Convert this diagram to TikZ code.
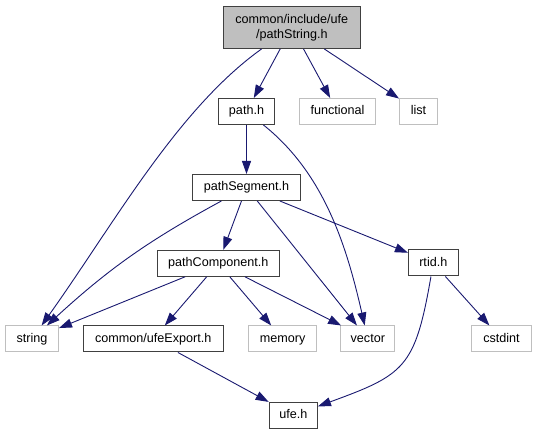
\documentclass[tikz,border=0pt]{standalone}
\usepackage{fontspec}
\setmainfont{Liberation Sans}
\usepackage{xcolor}
\usepackage{tikz}
\usetikzlibrary{arrows.meta}

\definecolor{edgeblue}{HTML}{191970}
\definecolor{extgrey}{HTML}{BFBFBF}
\definecolor{hdrline}{HTML}{404040}

\tikzset{
  filebox/.style={rectangle, line width=1pt, fill=white, inner xsep=0pt, inner ysep=0pt,
    font=\fontsize{12.6pt}{15pt}\selectfont},
  oneline/.style={filebox, minimum height=26pt, text height=9pt, text depth=2.6pt},
  hdr/.style={oneline, draw=hdrline},
  ext/.style={oneline, draw=extgrey},
  dep/.style={draw=edgeblue, line width=0.9pt, -{Triangle[length=13pt,width=9pt]}},
}

\begin{document}
\begin{tikzpicture}[x=1pt, y=1pt]%
\useasboundingbox (0,0) rectangle (537,435);%
% header nodes
\node[filebox, draw=hdrline, fill=extgrey, align=center, minimum width=137.3pt, minimum height=42.3pt] (pathString) at (291.8, 407.65) {common/include/ufe\\/pathString.h};%
\node[hdr, minimum width=56pt] (pathH) at (246.5, 323.5) {path.h};%
\node[ext, minimum width=76pt] (functional) at (337.5, 323.5) {functional};%
\node[ext, minimum width=38pt] (list) at (418.5, 323.5) {list};%
\node[hdr, minimum width=108pt] (pathSegment) at (246.5, 247.5) {pathSegment.h};%
\node[hdr, minimum width=122.3pt] (pathComponent) at (218.3, 171.7) {pathComponent.h};%
\node[hdr, minimum width=49.7pt] (rtid) at (433.3, 172) {rtid.h};%
\node[ext, minimum width=53pt] (string) at (32, 96) {string};%
\node[hdr, minimum width=140pt] (ufeExport) at (153.2, 96) {common/ufeExport.h};%
\node[ext, minimum width=67.7pt] (memory) at (282.7, 96) {memory};%
\node[ext, minimum width=54pt] (vector) at (367.8, 96) {vector};%
\node[ext, minimum width=60pt] (cstdint) at (501.5, 96) {cstdint};%
\node[hdr, minimum width=48.3pt] (ufe) at (293.3, 19.7) {ufe.h};%
% include edges
\draw[dep] (pathString) -- (pathH);%
\draw[dep] (pathString) -- (functional);%
\draw[dep] (pathString) -- (list);%
\draw[dep] (pathString) .. controls (177.4, 325.9) and (114.2, 211.5) .. (string);%
\draw[dep] (pathH) -- (pathSegment);%
\draw[dep] (pathH) .. controls (325, 261) and (347, 187) .. (vector);%
\draw[dep] (pathSegment) to[bend right=7] (string);%
\draw[dep] (pathSegment) -- (pathComponent);%
\draw[dep] (pathSegment) -- (vector);%
\draw[dep] (pathSegment) -- (rtid);%
\draw[dep] (pathComponent) -- (string);%
\draw[dep] (pathComponent) -- (ufeExport);%
\draw[dep] (pathComponent) -- (memory);%
\draw[dep] (pathComponent) -- (vector);%
\draw[dep] (rtid) -- (cstdint);%
\draw[dep] (rtid) .. controls (415.1, 67.2) and (404.9, 60.4) .. (ufe);%
\draw[dep] (ufeExport) -- (ufe);%
\end{tikzpicture}
\end{document}
